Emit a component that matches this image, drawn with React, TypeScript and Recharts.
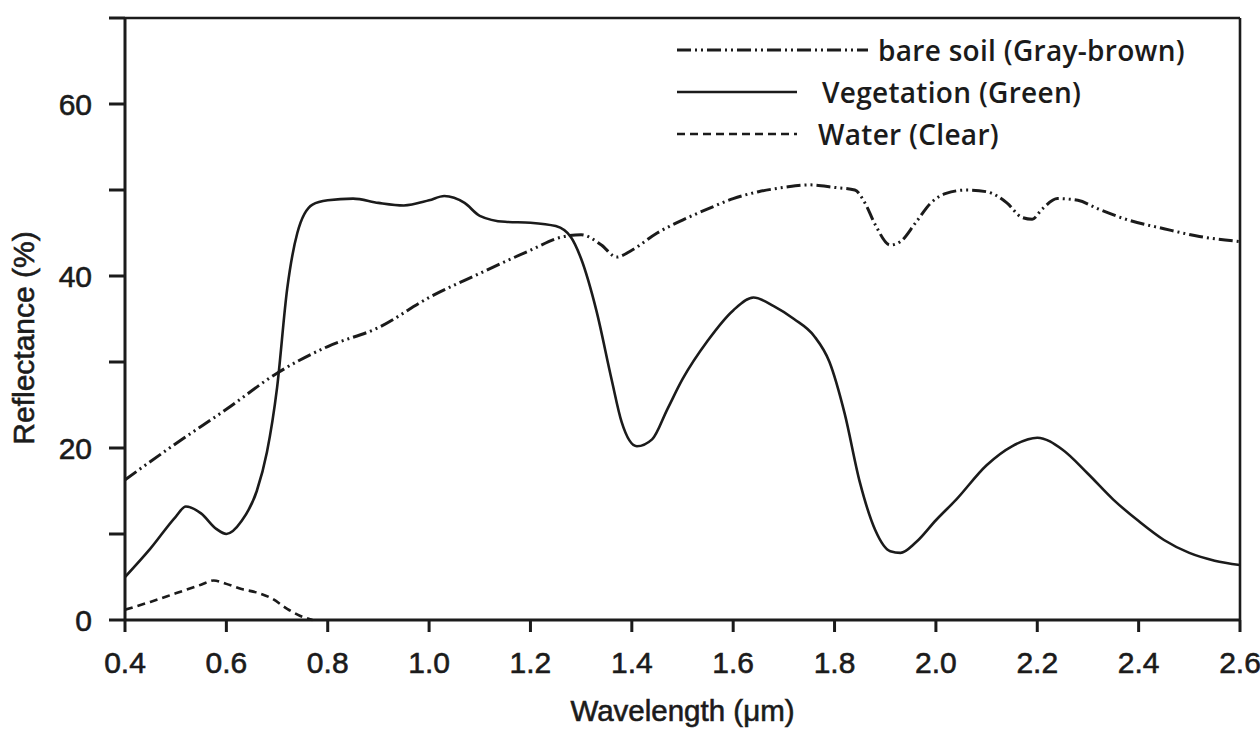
import { LineChart, Line, XAxis, YAxis, ReferenceLine, Legend } from 'recharts';

// wavelength in micrometres, reflectance in percent
const soilWavelength = [0.4, 0.5, 0.6, 0.7, 0.8, 0.9, 1.0, 1.1, 1.2, 1.26, 1.3, 1.34, 1.37, 1.4, 1.45, 1.5, 1.55, 1.6, 1.65, 1.7, 1.75, 1.8, 1.84, 1.86, 1.88, 1.91, 1.93, 1.96, 1.99, 2.02, 2.06, 2.1, 2.14, 2.17, 2.19, 2.21, 2.24, 2.28, 2.32, 2.38, 2.45, 2.52, 2.6];
const soilReflectance = [16.3, 20.5, 24.5, 28.7, 31.8, 34, 37.5, 40.3, 43, 44.5, 44.8, 43.6, 42.2, 43, 45, 46.5, 47.8, 49, 49.8, 50.3, 50.6, 50.3, 50, 48.5, 46, 43.6, 44, 46.2, 48.5, 49.6, 50, 49.8, 48.5, 46.8, 46.6, 47.8, 49, 48.8, 47.8, 46.5, 45.5, 44.6, 44];

const vegWavelength = [0.4, 0.45, 0.5, 0.52, 0.55, 0.58, 0.6, 0.63, 0.66, 0.68, 0.7, 0.72, 0.74, 0.77, 0.8, 0.85, 0.9, 0.95, 1.0, 1.03, 1.07, 1.1, 1.15, 1.2, 1.25, 1.28, 1.3, 1.33, 1.36, 1.38, 1.41, 1.44, 1.47, 1.5, 1.55, 1.6, 1.64, 1.68, 1.72, 1.76, 1.79, 1.82, 1.85, 1.88, 1.91, 1.93, 1.96, 2.0, 2.04, 2.1, 2.15, 2.2, 2.25, 2.3, 2.35, 2.4, 2.45, 2.5, 2.55, 2.6];
const vegReflectance = [5, 8.3, 12, 13.2, 12.4, 10.6, 10, 11.5, 15, 19.5, 27, 38.5, 45, 48.3, 48.8, 49, 48.5, 48.2, 48.8, 49.3, 48.5, 47, 46.3, 46.2, 45.8, 44.5, 42, 36, 28, 23, 20.2, 21, 24.5, 28, 32.5, 36, 37.5, 36.5, 35, 33, 30, 24, 16, 10.5, 8, 7.8, 9, 11.6, 14, 18, 20.2, 21.2, 19.8, 17, 14, 11.5, 9.3, 7.8, 6.9, 6.4];

const waterWavelength = [0.4, 0.45, 0.5, 0.55, 0.575, 0.6, 0.63, 0.66, 0.69, 0.72, 0.745, 0.77];
const waterReflectance = [1.2, 2.1, 3.1, 4.1, 4.6, 4.2, 3.6, 3.2, 2.5, 1.3, 0.5, 0];

const wavelengthTicks = [0.4, 0.6, 0.8, 1.0, 1.2, 1.4, 1.6, 1.8, 2.0, 2.2, 2.4, 2.6];
const reflectanceTicks = [0, 10, 20, 30, 40, 50, 60, 70];
const labelledTicks = [0, 20, 40, 60];

const SOIL = 'bare soil (Gray-brown)';
const VEG = 'Vegetation (Green)';
const WATER = 'Water (Clear)';

const toPoints = (xs: number[], ys: number[]) =>
  xs.map((x, i) => ({ wavelength: x, reflectance: ys[i] }));

const INK = '#1b1b1b';
const FONT = '"Liberation Sans", Arial, sans-serif';
const LEGEND_FONT = '"Open Sans", "Liberation Sans", sans-serif';

const lineStyles: Record<string, { dash?: string; width: number; sample: number; gap: number }> = {
  [SOIL]: { dash: '14 4 2 4 2 4', width: 3, sample: 191, gap: 10 },
  [VEG]: { width: 2.6, sample: 120, gap: 25 },
  [WATER]: { dash: '8 5', width: 2.6, sample: 120, gap: 21 },
};

const tickStyle = { fontSize: 30, fill: INK, fontFamily: FONT, stroke: INK, strokeWidth: 0.6 };

function LegendBox() {
  return (
    <div style={{ fontFamily: LEGEND_FONT, fontSize: 28, fontWeight: 600, letterSpacing: 0.3, color: INK }}>
      {[SOIL, VEG, WATER].map((name) => {
        const s = lineStyles[name];
        return (
          <div key={name} style={{ display: 'flex', alignItems: 'center', height: 42, whiteSpace: 'nowrap' }}>
            <svg width={s.sample} height={10} style={{ marginRight: s.gap, flex: 'none' }}>
              <line x1={0} y1={5} x2={s.sample} y2={5} stroke={INK} strokeWidth={s.width} strokeDasharray={s.dash} />
            </svg>
            <span>{name}</span>
          </div>
        );
      })}
    </div>
  );
}

export default function App() {
  return (
    <div style={{ position: 'absolute', left: 0, top: 0, background: '#fff', fontFamily: FONT }}>
      <LineChart width={1260} height={733} margin={{ top: 18, right: 20, left: 0, bottom: 0 }}>
        <XAxis
          type="number"
          dataKey="wavelength"
          domain={[0.4, 2.6]}
          ticks={wavelengthTicks}
          tickFormatter={(v: number) => v.toFixed(1)}
          allowDataOverflow
          height={113}
          tickSize={12}
          tickMargin={20}
          stroke={INK}
          strokeWidth={3}
          tick={tickStyle}
          label={{
            content: (p: any) => {
              const vb = p.viewBox || {};
              return (
                <text x={vb.x + vb.width / 2} y={721} textAnchor="middle" fontSize={29.5} fill={INK} stroke={INK} strokeWidth={0.6} fontFamily={FONT}>
                  Wavelength (μm)
                </text>
              );
            },
          }}
        />
        <YAxis
          type="number"
          domain={[0, 70]}
          ticks={reflectanceTicks}
          tickFormatter={(v: number) => (labelledTicks.includes(v) ? String(v) : '')}
          width={125}
          tickSize={16}
          tickMargin={17}
          stroke={INK}
          strokeWidth={3}
          tick={tickStyle}
          label={{
            content: (p: any) => {
              const vb = p.viewBox || {};
              const cx = 23;
              const cy = vb.y + vb.height / 2 + 19;
              return (
                <text x={cx} y={cy} transform={`rotate(-90 ${cx} ${cy})`} textAnchor="middle" dominantBaseline="central" fontSize={30} fill={INK} stroke={INK} strokeWidth={0.6} fontFamily={FONT}>
                  Reflectance (%)
                </text>
              );
            },
          }}
        />
        <ReferenceLine y={70} stroke={INK} strokeWidth={2.6} />
        <ReferenceLine x={2.6} stroke={INK} strokeWidth={2.6} />
        <Legend
          layout="vertical"
          align="center"
          verticalAlign="middle"
          wrapperStyle={{ top: 29, left: 677, width: 'auto' }}
          content={() => <LegendBox />}
        />
        <Line
          name={SOIL}
          data={toPoints(soilWavelength, soilReflectance)}
          dataKey="reflectance"
          type="monotone"
          stroke={INK}
          strokeWidth={lineStyles[SOIL].width}
          strokeDasharray={lineStyles[SOIL].dash}
          dot={false}
          isAnimationActive={false}
        />
        <Line
          name={VEG}
          data={toPoints(vegWavelength, vegReflectance)}
          dataKey="reflectance"
          type="monotone"
          stroke={INK}
          strokeWidth={lineStyles[VEG].width}
          dot={false}
          isAnimationActive={false}
        />
        <Line
          name={WATER}
          data={toPoints(waterWavelength, waterReflectance)}
          dataKey="reflectance"
          type="monotone"
          stroke={INK}
          strokeWidth={lineStyles[WATER].width}
          strokeDasharray={lineStyles[WATER].dash}
          dot={false}
          isAnimationActive={false}
        />
      </LineChart>
    </div>
  );
}
